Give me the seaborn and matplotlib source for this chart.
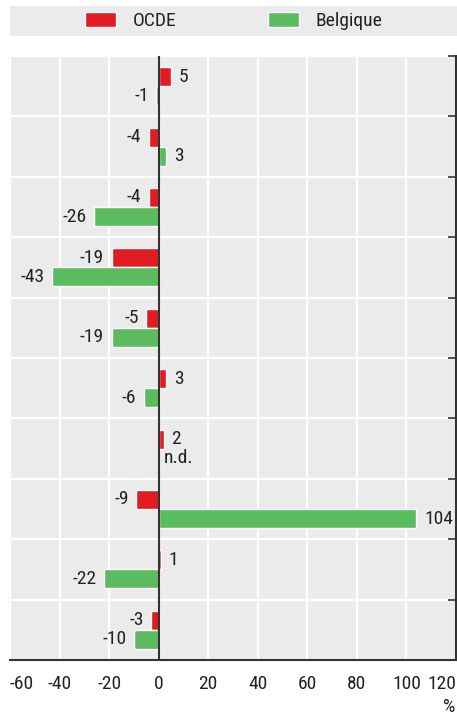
import matplotlib
matplotlib.use('Agg')
import matplotlib.pyplot as plt
import seaborn as sns
import pandas as pd
import numpy as np

groups = [str(i) for i in range(10)]
ocde = [5, -4, -4, -19, -5, 3, 2, -9, 1, -3]
belgique = [-1, 3, -26, -43, -19, -6, np.nan, 104, -22, -10]
series = ['OCDE', 'Belgique']
colors = ['#E11B22', '#5DBB5F']
xticks = [-60, -40, -20, 0, 20, 40, 60, 80, 100, 120]

df = pd.DataFrame({
    'group': groups * 2,
    'serie': ['OCDE'] * 10 + ['Belgique'] * 10,
    'value': ocde + belgique,
})

sns.set_style('white')
plt.rcParams['font.family'] = ['Liberation Sans Narrow', 'Roboto Condensed', 'Roboto', 'DejaVu Sans']
plt.rcParams['text.color'] = '#222222'
plt.rcParams['xtick.color'] = '#222222'

FS = 14
BAR_W = 0.63

fig = plt.figure(figsize=(4.57, 7.15), dpi=100)
W, H = 457, 715
ax = fig.add_axes([10 / W, 1 - 660 / H, 446 / W, 604 / H])
ax.set_facecolor('#EBEBEB')

sns.barplot(data=df, y='group', x='value', hue='serie', hue_order=series,
            palette=colors, orient='h', width=BAR_W, saturation=1,
            order=groups, ax=ax)

handles, labels = ax.get_legend_handles_labels()
ax.get_legend().remove()

# labels next to bar ends
for cont in ax.containers:
    for rect in cont:
        v = rect.get_width()
        if np.isnan(v):
            continue
        y = rect.get_y() + rect.get_height() / 2
        off, ha = (5.5, 'left') if v >= 0 else (-5.5, 'right')
        ax.annotate(f'{v:.0f}', (v, y), xytext=(off, 0), textcoords='offset points',
                    ha=ha, va='center', fontsize=FS)

# n.d. for missing Belgique value
for i, v in enumerate(belgique):
    if np.isnan(v):
        ax.annotate('n.d.', (0, i + BAR_W / 4), xytext=(4, 0), textcoords='offset points',
                    ha='left', va='center', fontsize=FS)

ax.set_xlim(-60, 120)
ax.set_ylim(9.5, -0.5)
ax.set_xticks(xticks)
ax.set_xticklabels([str(t) for t in xticks], fontsize=FS)
tl = ax.get_xticklabels()
tl[0].set_ha('left')
tl[-1].set_ha('right')
ax.set_yticks(np.arange(-0.5, 10, 1))
ax.set_yticklabels([])
ax.yaxis.tick_right()
ax.tick_params(axis='y', direction='in', length=6, width=1.2, color='#333333', right=True, left=False)
ax.tick_params(axis='x', direction='in', length=6, width=1.2, color='#333333', pad=11)
ax.grid(True, color='white', linewidth=1.6)
ax.set_axisbelow(True)
ax.set_xlabel('')
ax.set_ylabel('')
for s in ['left', 'top']:
    ax.spines[s].set_visible(False)
for s in ['right', 'bottom']:
    ax.spines[s].set_color('#333333')
    ax.spines[s].set_linewidth(1.5)
ax.axvline(0, color='#333333', linewidth=1.5, zorder=5)

fig.text(449 / W, 1 - 707 / H, '%', ha='center', va='center', fontsize=FS)

# legend strip
lax = fig.add_axes([10 / W, 1 - 36 / H, 447 / W, 30 / H])
lax.set_facecolor('#EBEBEB')
lax.set_xticks([])
lax.set_yticks([])
for s in lax.spines.values():
    s.set_visible(False)
lax.legend(handles, labels, loc='center', ncol=2, frameon=False, fontsize=FS,
           handlelength=1.6, handleheight=0.85, handletextpad=0.85, columnspacing=4.7,
           borderaxespad=0)

fig.savefig('out.png', dpi=100)
